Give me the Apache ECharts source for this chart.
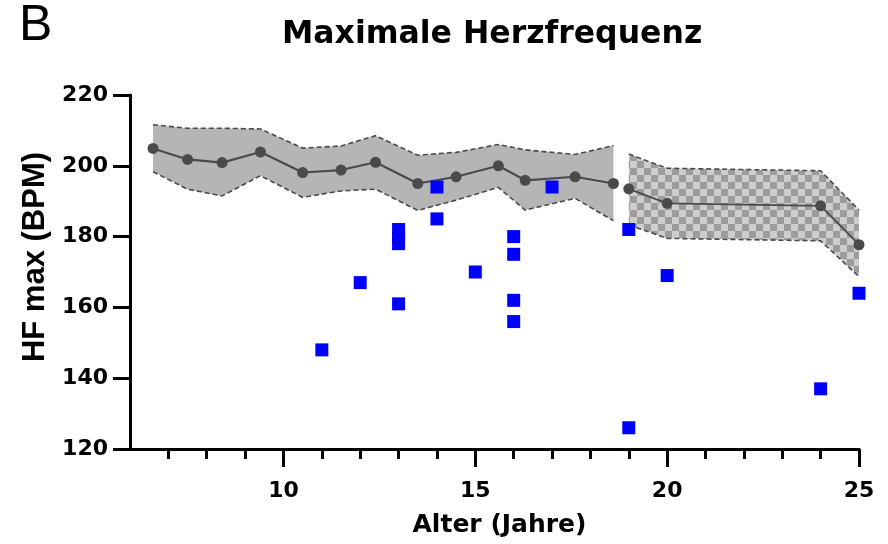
<!DOCTYPE html>
<html><head><meta charset="utf-8">
<script src="https://cdn.jsdelivr.net/npm/echarts@6/dist/echarts.min.js"></script>
<style>html,body{margin:0;padding:0;background:#fff}#c{width:888px;height:544px}</style>
</head><body><div id="c"></div>
<script>
// ---- data ----
const leftAge   = [6.6, 7.5, 8.4, 9.4, 10.5, 11.5, 12.4, 13.5, 14.5, 15.6, 16.3, 17.6, 18.6];
const leftMean  = [204.9, 201.8, 200.9, 203.9, 198.1, 198.8, 201.0, 195.0, 196.9, 200.0, 195.9, 196.9, 195.0];
const leftUpper = [211.6, 210.6, 210.6, 210.4, 205.0, 205.6, 208.5, 203.0, 203.8, 206.0, 204.5, 203.2, 205.7];
const leftLower = [198.3, 193.4, 191.5, 197.2, 191.1, 192.9, 193.4, 187.4, 190.3, 193.9, 187.5, 190.8, 184.5];
const rightAge   = [19, 20, 24, 25];
const rightMean  = [193.5, 189.4, 188.7, 177.7];
const rightUpper = [203.3, 199.3, 198.6, 187.5];
const rightLower = [183.3, 179.5, 178.8, 168.7];
const subjAge = [11, 12, 13, 13, 13, 13, 14, 14, 15, 16, 16, 16, 16, 17, 19, 19, 20, 24, 25];
const subjHF  = [148, 167, 161, 178, 180, 182, 194, 185, 170, 180, 175, 162, 156, 194, 182, 126, 169, 137, 164];
const xMajorTicks = [10, 15, 20, 25];
const xMinorTicks = [7, 8, 9, 11, 12, 13, 14, 16, 17, 18, 19, 21, 22, 23, 24];

// ---- checker pattern ----
const cell = 7;
const checker = document.createElement('canvas');
checker.width = cell * 2; checker.height = cell * 2;
const cx = checker.getContext('2d');
cx.fillStyle = '#cdcdcd'; cx.fillRect(0, 0, cell * 2, cell * 2);
cx.fillStyle = '#9c9c9c'; cx.fillRect(0, 0, cell, cell); cx.fillRect(cell, cell, cell, cell);

const bands = [
  {age: leftAge, upper: leftUpper, lower: leftLower, fill: '#b4b5b4'},
  {age: rightAge, upper: rightUpper, lower: rightLower, fill: {image: checker, repeat: 'repeat'}}
];

const chart = echarts.init(document.getElementById('c'), null, {renderer: 'canvas'});
const bold = 'DejaVu Sans';
chart.setOption({
  animation: false,
  backgroundColor: '#fff',
  title: [
    {text: 'Maximale Herzfrequenz', left: 282, top: 19, padding: 0,
     textStyle: {fontFamily: bold, fontWeight: 'bold', fontSize: 31.5, color: '#000'}},
    {text: 'B', left: 19, top: 1, padding: 0,
     textStyle: {fontFamily: 'Liberation Sans', fontWeight: 'normal', fontSize: 50, color: '#000'}}
  ],
  grid: {left: 130, right: 29, top: 95, bottom: 95, containLabel: false},
  xAxis: [
    {type: 'value', min: 6, max: 25, position: 'bottom',
     name: 'Alter (Jahre)', nameLocation: 'middle', nameGap: 64,
     nameTextStyle: {fontFamily: bold, fontWeight: 'bold', fontSize: 25, color: '#000', padding: [0, 0, 0, 10]},
     axisLine: {show: true, onZero: false, lineStyle: {color: '#000', width: 3}},
     axisTick: {show: true, customValues: xMajorTicks, length: 18, inside: false, lineStyle: {color: '#000', width: 3}},
     axisLabel: {customValues: xMajorTicks, margin: 31, fontFamily: bold, fontWeight: 'bold', fontSize: 22, color: '#000'},
     splitLine: {show: false}},
    {type: 'value', min: 6, max: 25, position: 'bottom',
     axisLine: {show: true, onZero: false, lineStyle: {color: '#000', width: 3}},
     axisTick: {show: true, customValues: xMinorTicks, length: 10, lineStyle: {color: '#000', width: 3}},
     axisLabel: {show: false},
     splitLine: {show: false}}
  ],
  yAxis: {type: 'value', min: 120, max: 220, interval: 20,
    name: 'HF max (BPM)', nameLocation: 'middle', nameGap: 76,
    nameTextStyle: {fontFamily: 'Liberation Sans', fontWeight: 'bold', fontSize: 31, color: '#000', padding: [0, 0, 0, 30]},
    axisLine: {show: true, onZero: false, lineStyle: {color: '#000', width: 3}},
    axisTick: {show: true, length: 17, lineStyle: {color: '#000', width: 3}},
    axisLabel: {margin: 22, fontFamily: bold, fontWeight: 'bold', fontSize: 22, color: '#000'},
    splitLine: {show: false}},
  series: [
    {type: 'custom', z: 1, clip: false,
     data: bands.map((b, i) => [b.age[0], b.upper[0], i]),
     encode: {x: 0, y: 1},
     renderItem: function (params, api) {
       const b = bands[params.dataIndex];
       const up = b.age.map((a, k) => api.coord([a, b.upper[k]]));
       const lo = b.age.map((a, k) => api.coord([a, b.lower[k]]));
       const poly = up.concat(lo.slice().reverse());
       const dash = {stroke: '#4a4a4a', lineWidth: 1.6, lineDash: [5, 3], fill: null};
       return {type: 'group', children: [
         {type: 'polygon', shape: {points: poly}, style: {fill: b.fill, stroke: null}},
         {type: 'polyline', shape: {points: up}, style: dash},
         {type: 'polyline', shape: {points: lo}, style: dash}
       ]};
     }},
    {type: 'line', z: 3, data: leftAge.map((a, i) => [a, leftMean[i]]),
     symbol: 'circle', symbolSize: 11, showSymbol: true,
     lineStyle: {color: '#4a4a4a', width: 2.2}, itemStyle: {color: '#4a4a4a'}},
    {type: 'line', z: 3, data: rightAge.map((a, i) => [a, rightMean[i]]),
     symbol: 'circle', symbolSize: 11, showSymbol: true,
     lineStyle: {color: '#4a4a4a', width: 1.8}, itemStyle: {color: '#4a4a4a'}},
    {type: 'scatter', z: 4, clip: false, data: subjAge.map((a, i) => [a, subjHF[i]]),
     symbol: 'rect', symbolSize: 13, itemStyle: {color: '#0000ff', opacity: 1}}
  ]
});
</script>
</body></html>
